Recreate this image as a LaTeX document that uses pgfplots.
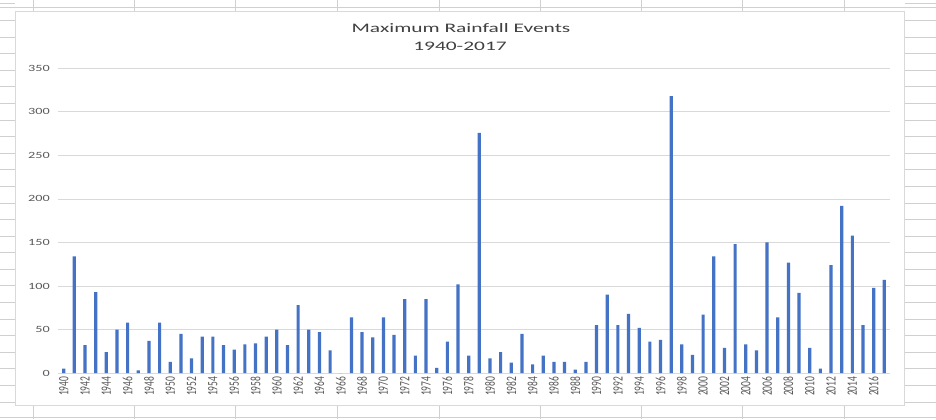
\documentclass[border=0pt]{standalone}
\usepackage{fontspec}
\setmainfont{Carlito}
\usepackage{graphicx}
\usepackage{pgfplots}
\pgfplotsset{compat=1.18}
\definecolor{excelblue}{RGB}{68,114,196}
\definecolor{sheetline}{RGB}{208,208,208}
\definecolor{gridc}{RGB}{217,217,217}
\definecolor{labc}{RGB}{89,89,89}
\definecolor{titc}{RGB}{64,64,64}
\begin{document}
\begin{tikzpicture}
\begin{scope}[x=1pt,y=1pt]
\fill[white] (0,0) rectangle (936,419);
% spreadsheet grid lines (background decoration)
\foreach \i in {0,...,24} {
  \draw[sheetline,line width=0.8pt] (0,{415.5-16.6*\i}) -- (15,{415.5-16.6*\i});
  \draw[sheetline,line width=0.8pt] (905,{415.5-16.6*\i}) -- (936,{415.5-16.6*\i});
}
\foreach \x in {33,134,235,337,439,540,642,743,845} {
  \draw[sheetline,line width=0.8pt] (\x,408) -- (\x,419);
  \draw[sheetline,line width=0.8pt] (\x,0) -- (\x,14);
}
\draw[sheetline,line width=0.8pt] (0,412) -- (936,412);
\draw[sheetline,line width=0.8pt] (0,2) -- (936,2);
% chart area
\draw[fill=white,draw=gridc,line width=0.8pt] (15,14) rectangle (905,408);
\node[titc,inner sep=0pt] at (461,391) {\scalebox{1.65}[1]{\fontsize{13}{18}\selectfont Maximum Rainfall Events}};
\node[titc,inner sep=0pt] at (460,373) {\scalebox{1.65}[1]{\fontsize{13}{18}\selectfont 1940-2017}};
\end{scope}
\begin{axis}[
  at={(58pt,46pt)}, anchor=south west,
  scale only axis, width=832pt, height=305pt,
  xmin=1939.5, xmax=2017.5, ymin=0, ymax=350,
  ytick={0,50,...,350},
  xtick={1940,1942,...,2016},
  axis x line*=bottom, axis y line*=left,
  y axis line style={draw=none},
  x axis line style={draw=gridc,line width=0.8pt},
  major tick length=0pt,
  ymajorgrids, grid style={gridc,line width=0.8pt},
  /pgf/number format/assume math mode=true,
  /pgf/number format/1000 sep={},
  yticklabel={\scalebox{1.5}[1]{\fontsize{9.5}{10}\selectfont\pgfmathprintnumber{\tick}}},
  yticklabel style={labc,xshift=-5pt},
  xticklabel={\scalebox{1}[1.5]{\fontsize{9.5}{10}\selectfont\pgfmathprintnumber{\tick}}},
  xticklabel style={labc,rotate=90,anchor=east,yshift=0pt},
]
\addplot[ybar, bar width=3.2pt, fill=excelblue, draw=none] coordinates {
(1940,5) (1941,134) (1942,32) (1943,93) (1944,24) (1945,50) (1946,58) (1947,3)
(1948,37) (1949,58) (1950,13) (1951,45) (1952,17) (1953,42) (1954,42) (1955,32)
(1956,27) (1957,33) (1958,34) (1959,42) (1960,50) (1961,32) (1962,78) (1963,50)
(1964,47) (1965,26) (1966,0) (1967,64) (1968,47) (1969,41) (1970,64) (1971,44)
(1972,85) (1973,20) (1974,85) (1975,6) (1976,36) (1977,102) (1978,20) (1979,276)
(1980,17) (1981,24) (1982,12) (1983,45) (1984,10) (1985,20) (1986,13) (1987,13)
(1988,4) (1989,13) (1990,55) (1991,90) (1992,55) (1993,68) (1994,52) (1995,36)
(1996,38) (1997,318) (1998,33) (1999,21) (2000,67) (2001,134) (2002,29) (2003,148)
(2004,33) (2005,26) (2006,150) (2007,64) (2008,127) (2009,92) (2010,29) (2011,5)
(2012,124) (2013,192) (2014,158) (2015,55) (2016,98) (2017,107)
};
\end{axis}
\end{tikzpicture}
\end{document}
